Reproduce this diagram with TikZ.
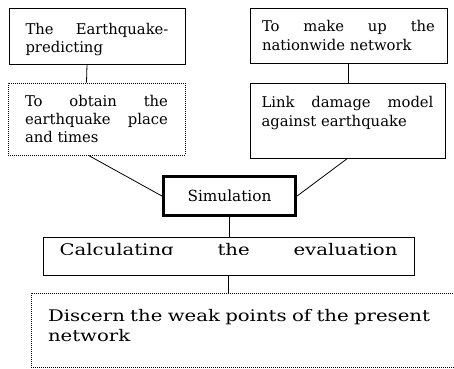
\documentclass[tikz,border=0pt]{standalone}
\usepackage{fontspec}
\setmainfont{DejaVu Serif}
\newfontfamily\widefont{DejaVu Serif}[FakeStretch=1.23]
\begin{document}
\begin{tikzpicture}[x=1pt,y=-1pt,
	box/.style={draw,line width=.8pt,inner sep=0pt,align=justify,font=\fontsize{14.8}{18.3}\selectfont},
	dotbox/.style={box,dash pattern=on .8pt off 1.2pt},
	simbox/.style={draw,line width=3.2pt,inner sep=0pt,font=\fontsize{15.3}{18}\selectfont},
	wide/.style={font=\widefont\fontsize{16}{20}\selectfont},
	wire/.style={line width=.8pt}]
	\useasboundingbox (0,0) rectangle (454,368);
	\clip (0,0) rectangle (454,368);
	\node[box,minimum width=176,minimum height=56,text width=143pt,text depth=14pt] (pred) at (97,36){The Earthquake-\linebreak predicting};
	\node[dotbox,minimum width=177,minimum height=72,text width=143pt] (obtain) at (96.5,119){To obtain the\linebreak earthquake place\linebreak and times};
	\node[box,minimum width=197,minimum height=55,text width=173pt] (make) at (348.5,35.5){To make up the\linebreak nationwide network};
	\node[box,minimum width=195,minimum height=75,text width=172pt] (damage) at (347.5,120.5){Link damage model\linebreak against earthquake\par\mbox{}};
	\node[simbox,minimum width=132,minimum height=39] (sim) at (229.5,196){Simulation};
	\node[box,minimum width=371,minimum height=38] (calc) at (228.5,256){};
	\begin{scope}
	\clip (calc.north west) rectangle ([yshift=1.7pt]calc.east);
	\node[wide,anchor=base,inner sep=0pt] (calctext) at ([yshift=1pt]calc.center){\makebox[338pt][s]{Calculating the evaluation}};
	\end{scope}
	\node[dotbox,wide,align=left,minimum width=460,minimum height=74,text width=426pt,text depth=30pt] (disc) at (261,330){Discern the weak points of the present\\network};
	% connectors
	\draw[wire] ([xshift=-10pt]pred.south)--([xshift=-10pt]obtain.north);
	\draw[wire] (make.south)--(make.south |- damage.north);
	\draw[wire] ([xshift=-8pt]obtain.south)--(sim.west);
	\draw[wire] (damage.south)--(sim.east);
	\draw[wire] (sim.south)--(sim.south |- calc.north);
	\draw[wire] (calc.south)--(calc.south |- disc.north);
\end{tikzpicture}
\end{document}
